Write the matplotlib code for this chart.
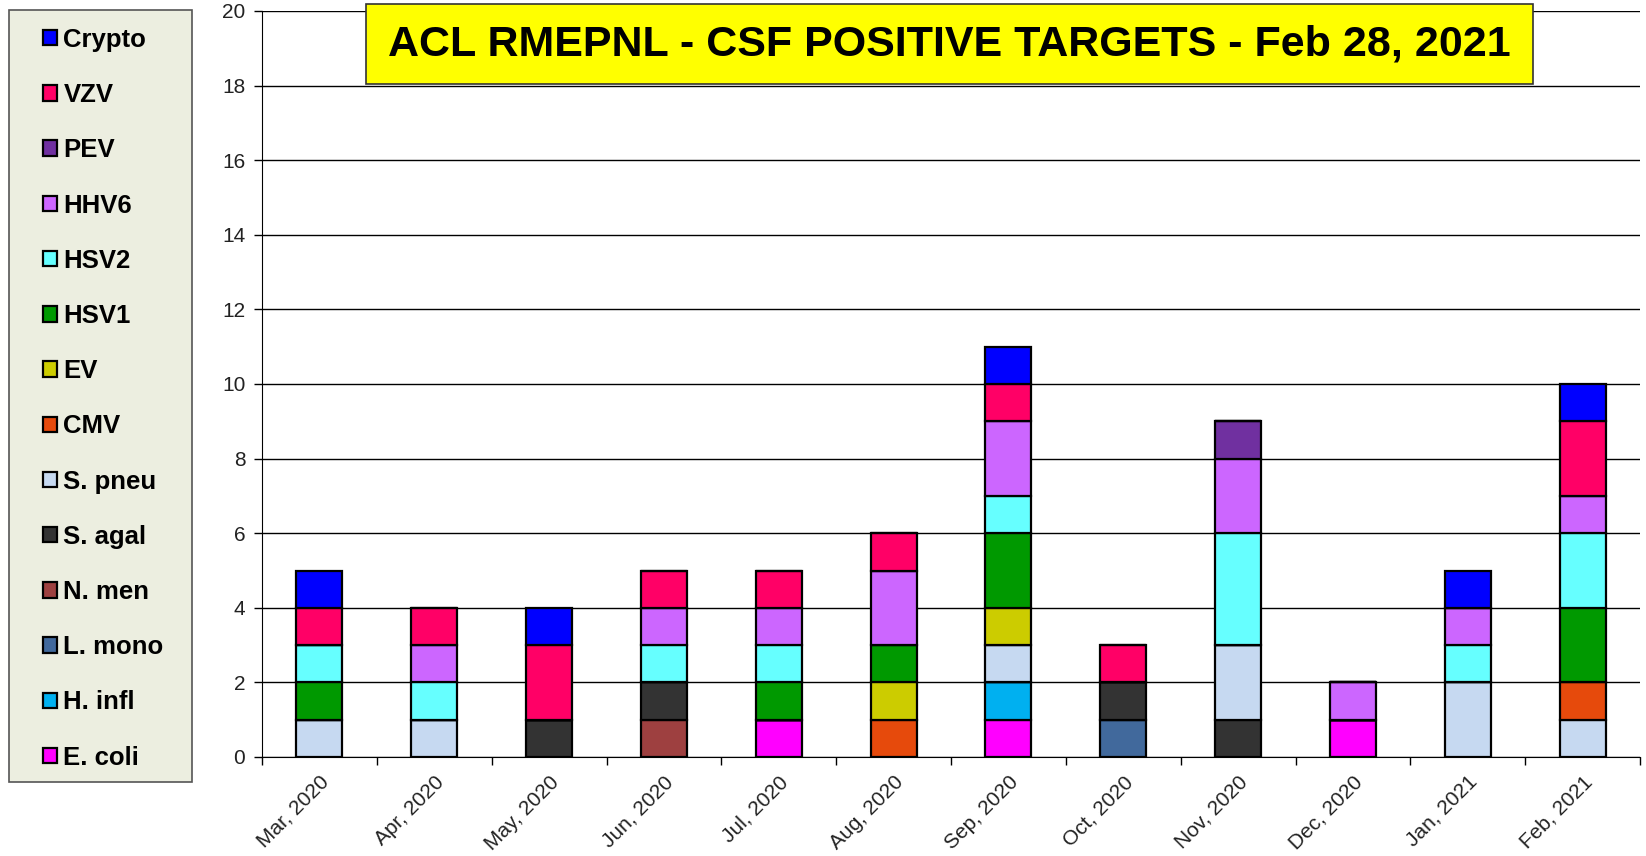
import numpy as np
import matplotlib
matplotlib.use("Agg")
import matplotlib.pyplot as plt
from matplotlib.patches import Rectangle, Patch

plt.rcParams['font.family'] = ['Liberation Sans', 'DejaVu Sans']

months = ["Mar, 2020", "Apr, 2020", "May, 2020", "Jun, 2020", "Jul, 2020", "Aug, 2020",
          "Sep, 2020", "Oct, 2020", "Nov, 2020", "Dec, 2020", "Jan, 2021", "Feb, 2021"]

# stacked bottom -> top
targets = ["E. coli", "H. infl", "L. mono", "N. men", "S. agal", "S. pneu", "CMV",
           "EV", "HSV1", "HSV2", "HHV6", "PEV", "VZV", "Crypto"]

e_coli = [0, 0, 0, 0, 1, 0, 1, 0, 0, 1, 0, 0]
h_infl = [0, 0, 0, 0, 0, 0, 1, 0, 0, 0, 0, 0]
l_mono = [0, 0, 0, 0, 0, 0, 0, 1, 0, 0, 0, 0]
n_men  = [0, 0, 0, 1, 0, 0, 0, 0, 0, 0, 0, 0]
s_agal = [0, 0, 1, 1, 0, 0, 0, 1, 1, 0, 0, 0]
s_pneu = [1, 1, 0, 0, 0, 0, 1, 0, 2, 0, 2, 1]
cmv    = [0, 0, 0, 0, 0, 1, 0, 0, 0, 0, 0, 1]
ev     = [0, 0, 0, 0, 0, 1, 1, 0, 0, 0, 0, 0]
hsv1   = [1, 0, 0, 0, 1, 1, 2, 0, 0, 0, 0, 2]
hsv2   = [1, 1, 0, 1, 1, 0, 1, 0, 3, 0, 1, 2]
hhv6   = [0, 1, 0, 1, 1, 2, 2, 0, 2, 1, 1, 1]
pev    = [0, 0, 0, 0, 0, 0, 0, 0, 1, 0, 0, 0]
vzv    = [1, 1, 2, 1, 1, 1, 1, 1, 0, 0, 0, 2]
crypto = [1, 0, 1, 0, 0, 0, 1, 0, 0, 0, 1, 1]

series = [e_coli, h_infl, l_mono, n_men, s_agal, s_pneu, cmv, ev, hsv1, hsv2, hhv6, pev, vzv, crypto]
colors = ["#FF00FF", "#00B0F0", "#41699C", "#9E4040", "#333333", "#C6D9F1", "#E64A0C",
          "#CCCC00", "#009900", "#66FFFF", "#CC66FF", "#7030A0", "#FF0066", "#0000FF"]

fig = plt.figure(figsize=(16.46, 8.56), dpi=100)
ax = fig.add_axes([262 / 1646, 1 - 757 / 856, (1640 - 262) / 1646, (757 - 11) / 856])

x = np.arange(len(months))
bottom = np.zeros(len(months))
for name, vals, col in zip(targets, series, colors):
    vals = np.array(vals, dtype=float)
    ax.bar(x, vals, width=0.4, bottom=bottom, color=col, edgecolor="black",
           linewidth=1.6, zorder=3)
    bottom += vals

ax.set_xlim(-0.5, len(months) - 0.5)
ax.set_ylim(0, 20)
ax.set_yticks(range(0, 21, 2))
ax.yaxis.grid(True, color="black", linewidth=1.0, zorder=0)
ax.set_axisbelow(True)
for s in ["top", "right"]:
    ax.spines[s].set_visible(False)
ax.spines["left"].set_color("black")
ax.spines["bottom"].set_color("black")

ax.set_xticks(x)
ax.set_xticklabels(months, rotation=45, ha="right", rotation_mode="anchor",
                   fontsize=15, color="#222222")
ax.tick_params(axis="x", which="major", length=0, pad=11)
ax.set_xticks(np.arange(-0.5, len(months), 1), minor=True)
ax.tick_params(axis="x", which="minor", length=6, width=1, direction="out")
ax.tick_params(axis="y", labelsize=15, labelcolor="#222222", length=6, width=1, pad=6)

# title box
fig.patches.append(Rectangle((366 / 1646, 1 - 84 / 856), (1533 - 366) / 1646, 80 / 856,
                             transform=fig.transFigure, facecolor="#FFFF00",
                             edgecolor="#333333", linewidth=1.2, zorder=1))
fig.text((366 + 1533) / 2 / 1646, 1 - 45 / 856,
         "ACL RMEPNL - CSF POSITIVE TARGETS - Feb 28, 2021",
         ha="center", va="center", fontsize=31, fontweight="bold", zorder=2)

# legend panel
fig.patches.append(Rectangle((9 / 1646, 1 - 782 / 856), (192 - 9) / 1646, 772 / 856,
                             transform=fig.transFigure, facecolor="#ECEEE0",
                             edgecolor="#555555", linewidth=1.2, zorder=1))
handles = [Patch(facecolor=c, edgecolor="black", linewidth=1.6) for c in colors[::-1]]
leg = fig.legend(handles, targets[::-1], loc="upper left",
                 bbox_to_anchor=(30 / 1646, 1 - 15 / 856), frameon=False,
                 prop={"size": 18.5, "weight": "bold"}, handlelength=0.55, handleheight=0.55,
                 handletextpad=0.25, labelspacing=1.215, borderpad=0)
leg.set_zorder(5)

fig.savefig("out.png", dpi=100)
